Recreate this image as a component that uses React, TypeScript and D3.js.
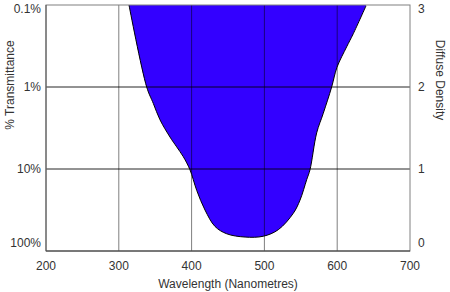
import React from "react";
import * as d3 from "d3";

const wavelengths = [314, 338.3, 347.4, 356.6, 370.3, 379.5, 388.6, 397.8, 407, 418.4, 432.1, 448.2, 473.4, 498.5, 519.1, 539.7, 548.9, 558.1, 562.6, 571.8, 580.9, 592.4, 599.7, 613, 622.1, 639.6];
const densities = [3.0, 2.0, 1.8, 1.6, 1.39, 1.27, 1.15, 0.99, 0.74, 0.5, 0.3, 0.21, 0.17, 0.18, 0.26, 0.46, 0.62, 0.87, 0.99, 1.44, 1.68, 2.0, 2.24, 2.49, 2.65, 2.99];
const xTicks = [200, 300, 400, 500, 600, 700];
const densityTicks = [0, 1, 2, 3];
const transLabels = ["100%", "10%", "1%", "0.1%"];

const W = 450, H = 292;
const L = 46, R = 410, T = 5, B = 251;
const FONT = "'Liberation Sans', Arial, sans-serif";

export default function App() {
  const x = d3.scaleLinear().domain([200, 700]).range([L, R]);
  const y = d3.scaleLinear().domain([0, 3]).range([B, T]);
  const pts: [number, number][] = wavelengths.map((w, i) => [w, densities[i]]);
  const area = d3.area<[number, number]>()
    .x(d => x(d[0])).y0(y(3)).y1(d => y(d[1]))
    .curve(d3.curveCatmullRom.alpha(0.5));
  const line = d3.line<[number, number]>()
    .x(d => x(d[0])).y(d => y(d[1]))
    .curve(d3.curveCatmullRom.alpha(0.5));
  const labelOffset = (d: number) => (d === 0 ? -8 : d === 3 ? 4 : 0);
  return (
    <svg width={W} height={H} style={{ position: "absolute", left: 0, top: 0, background: "#fff" }}>
      <path d={area(pts) || ""} fill="#3300ff" />
      <path d={line(pts) || ""} fill="none" stroke="#000" strokeWidth={1} />
      {xTicks.slice(1, -1).map(t => (
        <line key={"vx" + t} x1={x(t)} x2={x(t)} y1={T} y2={B} stroke="#000" strokeOpacity={0.5} strokeWidth={1} />
      ))}
      {densityTicks.slice(1, -1).map(t => (
        <line key={"hy" + t} x1={L} x2={R} y1={y(t)} y2={y(t)} stroke="#000" strokeOpacity={0.85} strokeWidth={1} />
      ))}
      <rect x={L} y={T} width={R - L} height={B - T} fill="none" stroke="#808080" strokeWidth={1} />
      <line x1={L} x2={R} y1={B} y2={B} stroke="#333" strokeWidth={1} />
      <line x1={L} x2={L} y1={T} y2={B} stroke="#555" strokeWidth={1} />
      {xTicks.map(t => (
        <text key={"xt" + t} x={x(t)} y={270} textAnchor="middle" fontFamily={FONT} fontSize={12} fill="#333">{t}</text>
      ))}
      {densityTicks.map((t, i) => (
        <text key={"lt" + t} x={41} y={y(t) + labelOffset(t)} dy="0.35em" textAnchor="end" fontFamily={FONT} fontSize={12} fill="#333">{transLabels[i]}</text>
      ))}
      {densityTicks.map(t => (
        <text key={"rt" + t} x={418} y={y(t) + labelOffset(t)} dy="0.35em" textAnchor="start" fontFamily={FONT} fontSize={12} fill="#333">{t}</text>
      ))}
      <text x={228} y={288} textAnchor="middle" fontFamily={FONT} fontSize={12} fill="#333">Wavelength (Nanometres)</text>
      <text transform="translate(14,85) rotate(-90)" textAnchor="middle" fontFamily={FONT} fontSize={12} fill="#333">% Transmittance</text>
      <text transform="translate(436,80) rotate(90)" textAnchor="middle" fontFamily={FONT} fontSize={12} fill="#333">Diffuse Density</text>
    </svg>
  );
}
